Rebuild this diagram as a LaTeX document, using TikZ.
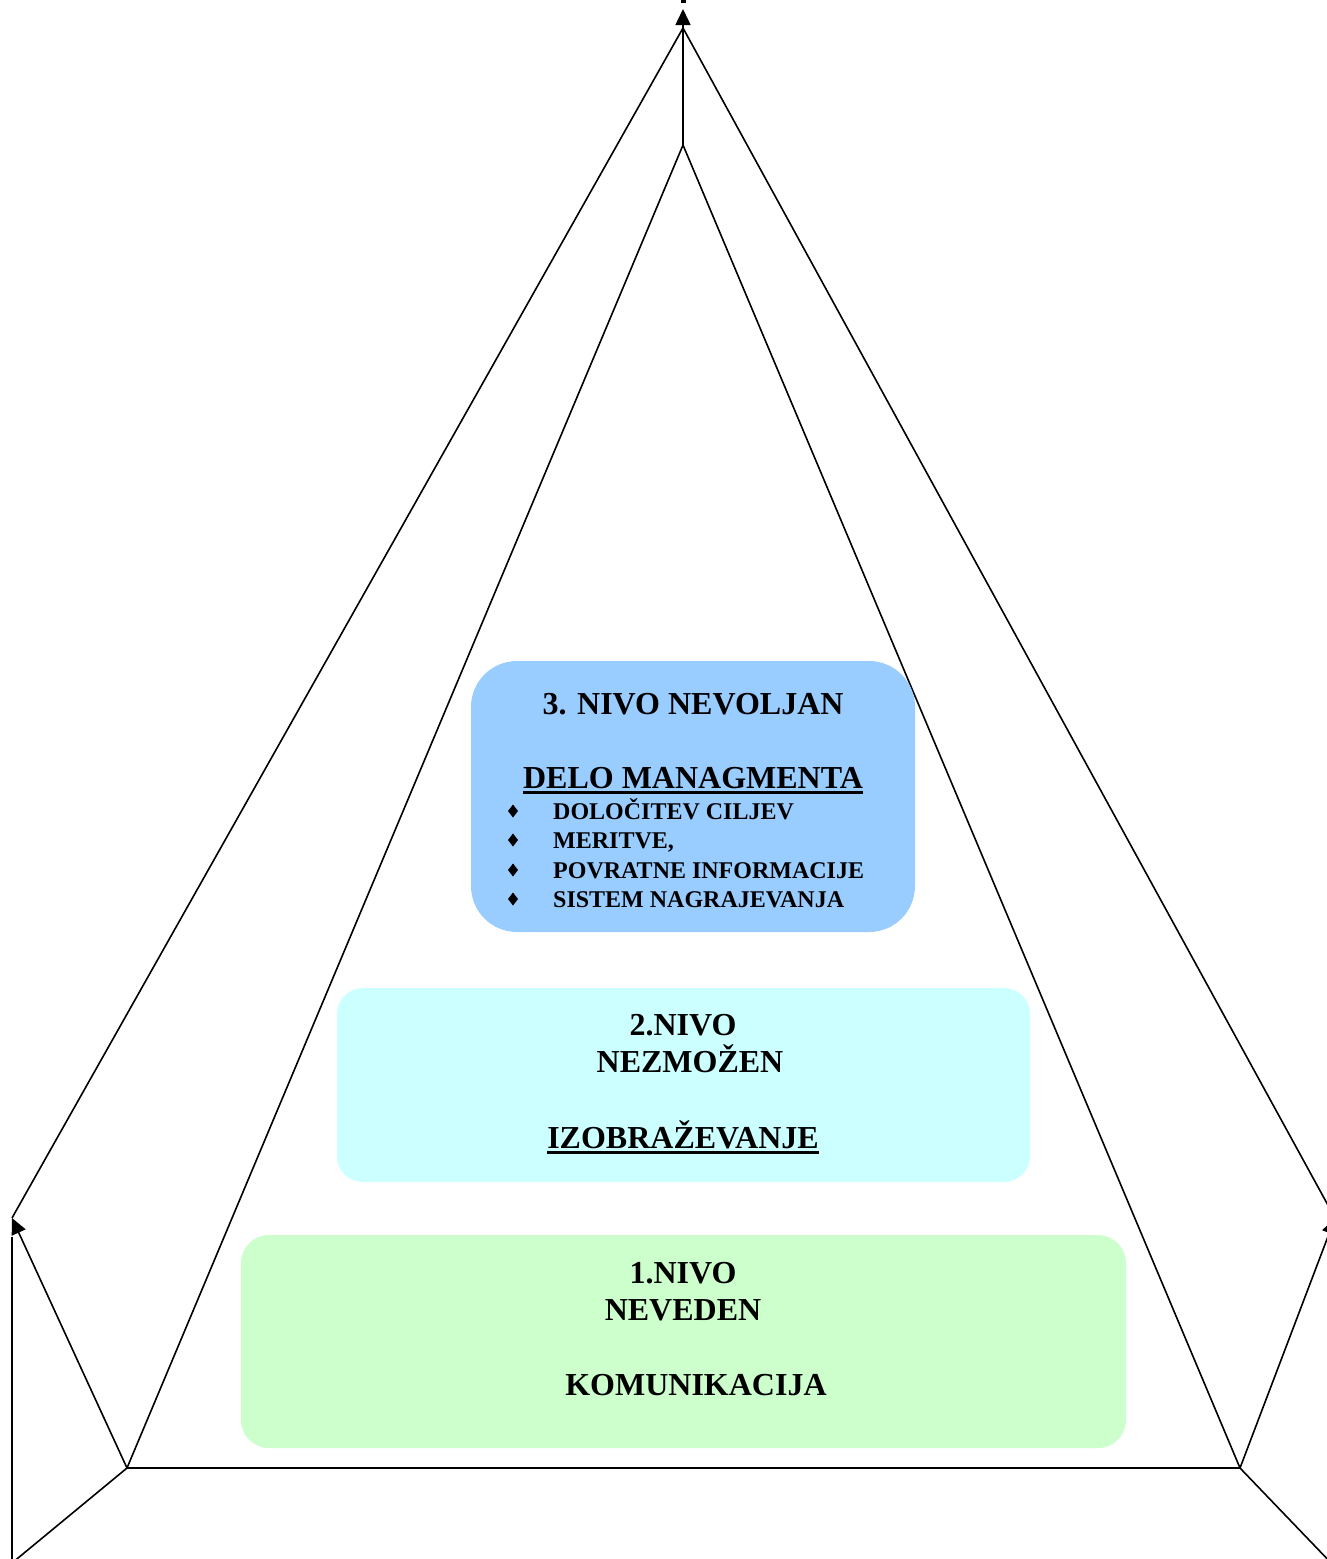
\documentclass[tikz,border=0pt]{standalone}
\usepackage{fontspec}
\setmainfont{Liberation Serif}
\usetikzlibrary{arrows.meta}
\begin{document}
\begin{tikzpicture}[x=1pt,y=-1pt,
  edge/.style={line width=1.6pt,line join=miter},
  tipped/.style={edge,-{Triangle[length=16pt,width=15pt]}},
  big/.style={inner sep=0pt,anchor=base,font=\fontsize{32}{38}\selectfont\bfseries},
  item/.style={inner sep=0pt,anchor=base west,font=\fontsize{24}{29}\selectfont\bfseries},
  uline/.style={line width=2.8pt}]
\useasboundingbox (0,0) rectangle (1327,1559);
\clip (0,0) rectangle (1327,1559);
\fill[white] (0,0) rectangle (1327,1559);

% frame points of the pyramid
\coordinate (outerTop) at (683,28);
\coordinate (innerTop) at (683,145);
\coordinate (arrowTop) at (683,9);
\coordinate (baseL) at (127,1468);
\coordinate (baseR) at (1240,1468);
\coordinate (cornerL) at (12,1218);
\coordinate (cornerR) at (1335,1218);
\coordinate (postL) at (12,1237);
\coordinate (footL) at (12,1570);
\coordinate (footLL) at (12,1563);
\coordinate (footRR) at (1335,1567);

% outer pyramid
\draw[edge] (cornerL) -- (outerTop) -- (cornerR);
\draw[edge] (postL) -- (footL);
\draw[edge] (baseL) -- (footLL);
\draw[edge] (baseR) -- (footRR);

% inner pyramid
\draw[edge] (innerTop) -- (baseL) -- (baseR) -- cycle;

% arrows towards the outer corners
\draw[tipped] (innerTop) -- (arrowTop);
\draw[tipped] (baseL) -- (cornerL);
\draw[tipped] (baseR) -- (cornerR);
\fill (681,0) rectangle (686,2.5);

% level 3
\fill[fill={rgb,255:red,153;green,204;blue,255}] (471,661) [rounded corners=46pt] rectangle (915,932);
\node[big] (t3a) at (693,714) {3. NIVO NEVOLJAN};
\node[big] (t3b) at (693,788) {DELO MANAGMENTA};
\draw[uline] ([yshift=-4.5pt]t3b.base west) -- ([yshift=-4.5pt]t3b.base east);
\foreach \yy/\txt [count=\i] in {819/DOLOČITEV CILJEV,848/{MERITVE,},878/POVRATNE INFORMACIJE,907/SISTEM NAGRAJEVANJA}{
  \node[item] (b\i) at (553,\yy) {\txt};
  \fill (513,\yy-14.5) -- (518,\yy-8) -- (513,\yy-1.5) -- (508,\yy-8) -- cycle;
}

% level 2
\fill[fill={rgb,255:red,204;green,255;blue,255}] (337,988) [rounded corners=26pt] rectangle (1030,1182);
\node[big] (t2a) at (683,1035) {2.NIVO};
\node[big] (t2b) at (690,1072) {NEZMOŽEN};
\node[big] (t2c) at (683,1148) {IZOBRAŽEVANJE};
\draw[uline] ([yshift=-4.5pt]t2c.base west) -- ([yshift=-4.5pt]t2c.base east);

% level 1
\fill[fill={rgb,255:red,204;green,255;blue,204}] (241,1235) [rounded corners=28pt] rectangle (1126,1448);
\node[big] (t1a) at (683,1283) {1.NIVO};
\node[big] (t1b) at (683,1320) {NEVEDEN};
\node[big] (t1c) at (696,1395) {KOMUNIKACIJA};
\end{tikzpicture}
\end{document}
